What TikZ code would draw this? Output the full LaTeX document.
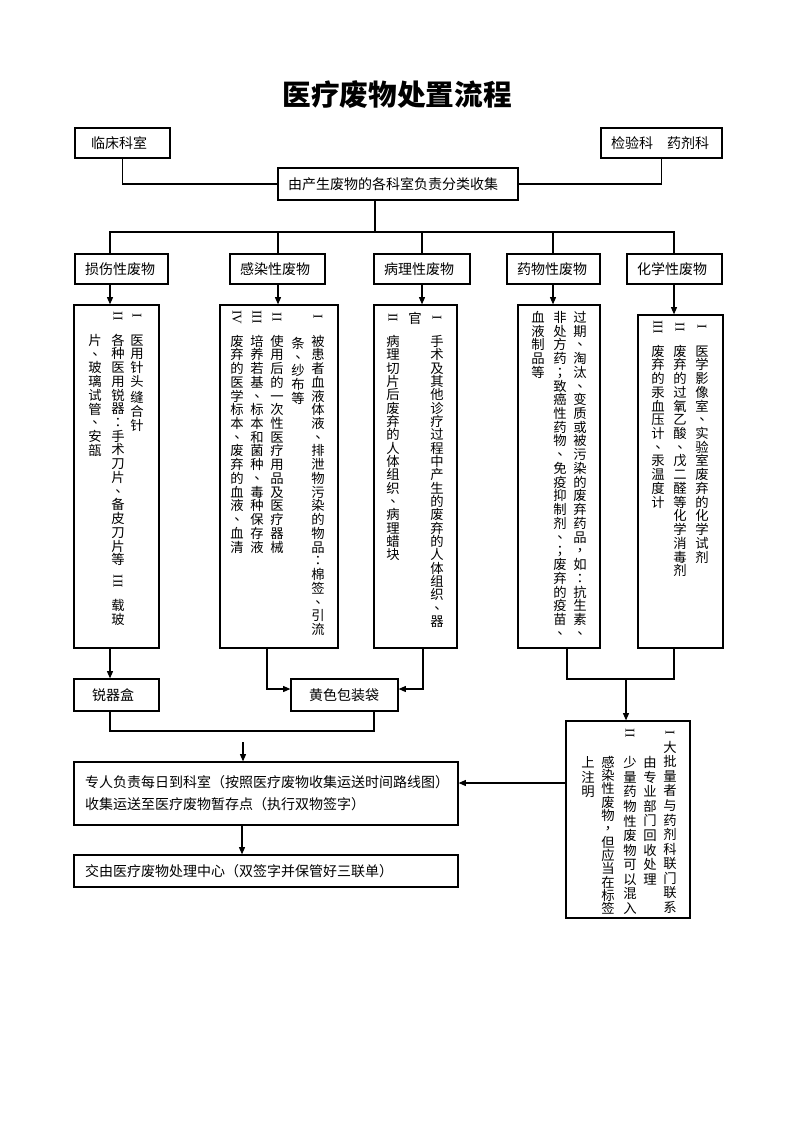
\documentclass[tikz,border=0pt]{standalone}
\usepackage{graphicx}
\usepackage{fontspec}
\setmainfont{Noto Sans CJK SC}
\newfontfamily\latin{Liberation Serif}
\newfontfamily\tcfont{Noto Sans CJK TC}
\usetikzlibrary{arrows.meta}
\newdimen\vpitch \vpitch=10.3pt
\newdimen\cw \cw=11pt
\def\vchar#1{\ifx#1、\tcfont#1\else\ifx#1，\tcfont#1\else\ifx#1：\tcfont#1\else\ifx#1；\tcfont#1\else#1\fi\fi\fi\fi}
\newcommand\vcell[1]{\hbox to\cw{\hss\vrule height .88\vpitch depth .12\vpitch width 0pt\relax\vchar{#1}\hss}}
\newcommand\rnum[1]{\hbox to\cw{\hss\vbox to\vpitch{\vss\hbox{\rotatebox{-90}{\latin\fontsize{10}{10}\selectfont #1}}\vss}\hss}}
\newcommand\vg[1]{\kern#1\relax}
\ExplSyntaxOn
\NewDocumentCommand\vt{m}
  {
    \vbox
      {
        \offinterlineskip
        \tl_map_inline:nn {#1}
          { \tl_if_single_token:nTF {##1} { \vcell{##1} } { ##1 } }
      }
  }
\ExplSyntaxOff
\tikzset{
  ln/.style={line width=0.9pt},
  arr/.style={ln, -{Triangle[length=5.5pt,width=4.5pt]}},
  hb/.style={draw, line width=0.9pt, inner ysep=0pt, align=left, font=\fontsize{10.5}{16.5}\selectfont},
  tall/.style={draw, line width=0.9pt, inner sep=0pt},
  vcol/.style={inner sep=0pt, anchor=north, font=\fontsize{10}{10}\selectfont},
  ttl/.style={inner sep=0pt, font=\fontsize{21.5}{24}\selectfont\bfseries},
}
\newcommand\hbx[7]{%
  \pgfmathsetmacro\hbxtw{(#4-#2-2*#6)*0.75}%
  \pgfmathsetmacro\hbxbh{(#5-#3)*0.75}%
  \pgfmathsetmacro\hbxpad{#6*0.75}%
  \node[hb, text width=\hbxtw pt, inner xsep=\hbxpad pt, minimum height=\hbxbh pt] (#1) at ({(#2+#4)/2},{(#3+#5)/2}) {#7};}
\newcommand\tbx[5]{%
  \pgfmathsetmacro\hbxtw{(#4-#2)*0.75}%
  \pgfmathsetmacro\hbxbh{(#5-#3)*0.75}%
  \node[tall, minimum width=\hbxtw pt, minimum height=\hbxbh pt] (#1) at ({(#2+#4)/2},{(#3+#5)/2}) {};}
\begin{document}
\begin{tikzpicture}[x=0.75pt,y=-0.75pt]
\path[use as bounding box] (0,0) rectangle (793,1122);
% title
\node[ttl] (title) at (397,95) {医疗废物处置流程};
% top boxes
\hbx{lc}{75}{128}{170}{158}{16}{临床科室}
\hbx{jy}{601}{128}{722}{158}{10}{检验科　药剂科}
\hbx{src}{278}{168}{518}{200}{10}{由产生废物的各科室负责分类收集}
% categories
\hbx{k1}{75}{254}{168}{284}{10}{损伤性废物}
\hbx{k2}{230}{254}{325}{284}{10}{感染性废物}
\hbx{k3}{374}{254}{470}{284}{10}{病理性废物}
\hbx{k4}{507}{254}{600}{284}{10}{药物性废物}
\hbx{k5}{627}{254}{722}{284}{10}{化学性废物}
% tall boxes
\tbx{tA}{74}{305}{159}{648}
\tbx{tB}{220}{305}{338}{648}
\tbx{tC}{374}{305}{457}{648}
\tbx{tD}{518}{305}{600}{648}
\tbx{tE}{638}{315}{723}{648}
\tbx{tF}{566}{721}{690}{918}
% columns A
\node[vcol] (a1) at (137,309) {\vt{{\rnum{I}}{\vg{7.5pt}}医用针头{\vg{2pt}}缝合针}};
\node[vcol] (a2) at (118,309) {\vt{{\rnum{II}}{\vg{7.5pt}}各种医用锐器：手术刀片、备皮刀片等{\vg{6pt}}{\rnum{III}}{\vg{7.5pt}}载玻}};
\node[vcol] (a3) at (95,333) {\vt{片、玻璃试管、安瓿}};
% columns B
\node[vcol] (b1) at (318,310) {\vt{{\rnum{I}}{\vg{7.5pt}}被患者血液体液、排泄物污染的物品：棉签、引流}};
\node[vcol] (b2) at (298,336) {\vt{条、纱布等}};
\node[vcol] (b3) at (277,310) {\vt{{\rnum{II}}{\vg{7.5pt}}使用后的一次性医疗用品及医疗器械}};
\node[vcol] (b4) at (257,310) {\vt{{\rnum{III}}{\vg{7.5pt}}培养若基、标本和菌种、毒种保存液}};
\node[vcol] (b5) at (237,310) {\vt{{\rnum{IV}}{\vg{7.5pt}}废弃的医学标本、废弃的血液、血清}};
% columns C
\node[vcol] (p1) at (437,311) {\vpitch=10pt\vt{{\rnum{I}}{\vg{7.5pt}}手术及其他诊疗过程中产生的废弃的人体组织、器}};
\node[vcol] (p2) at (415,311) {\vpitch=10pt\vt{官}};
\node[vcol] (p3) at (393,311) {\vpitch=10pt\vt{{\rnum{II}}{\vg{7.5pt}}病理切片后废弃的人体组织、病理蜡块}};
% columns D
\node[vcol] (d1) at (580,310) {\vt{过期、淘汰、变质或被污染的废弃药品，如：抗生素、}};
\node[vcol] (d2) at (560,310) {\vt{非处方药；致癌性药物、免疫抑制剂、；废弃的疫苗、}};
\node[vcol] (d3) at (538,310) {\vt{血液制品等}};
% columns E
\node[vcol] (e1) at (702,320) {\vt{{\rnum{I}}{\vg{7.5pt}}医学影像室、实验室废弃的化学试剂}};
\node[vcol] (e2) at (680,320) {\vt{{\rnum{II}}{\vg{7.5pt}}废弃的过氧乙酸、戊二醛等化学消毒剂}};
\node[vcol] (e3) at (658,320) {\vt{{\rnum{III}}{\vg{7.5pt}}废弃的汞血压计、汞温度计}};
% columns F
\node[vcol] (f1) at (670,724.75) {\vpitch=10.9pt\vt{{\rnum{I}}大批量者与药剂科联门联系}};
\node[vcol] (f2) at (650,754.75) {\vpitch=10.9pt\vt{由专业部门回收处理}};
\node[vcol] (f3) at (630,725.75) {\vpitch=10.9pt\vt{{\rnum{II}}{\vg{10.9pt}}少量药物性废物可以混入}};
\node[vcol] (f4) at (608,755.3) {\vpitch=10pt\vt{感染性废物，但应当在标签}};
\node[vcol] (f5) at (588,754.75) {\vpitch=10.9pt\vt{上注明}};
% lower boxes
\hbx{sh}{74}{679}{159}{711}{18}{锐器盒}
\hbx{yb}{291}{679}{398}{711}{18}{黄色包装袋}
\hbx{big}{74}{762}{458}{825}{11}{专人负责每日到科室（按照医疗废物收集运送时间路线图）\\收集运送至医疗废物暂存点（执行双物签字）}
\hbx{fin}{74}{855}{458}{887}{11}{交由医疗废物处理中心（双签字并保管好三联单）}
% helper coordinates
\coordinate (j0) at (375,232);
\coordinate (v1) at (110,232);
\coordinate (v2) at (278,232);
\coordinate (v3) at (422,232);
\coordinate (v4) at (553,232);
\coordinate (v5) at (674,232);
\coordinate (ybin) at (0,689);
\coordinate (xb) at (267,0);
\coordinate (xc) at (423,0);
\coordinate (bus2) at (0,731);
\coordinate (xy) at (374,0);
\coordinate (s1) at (243,742);
\coordinate (x2) at (242,0);
\coordinate (mrg) at (0,679);
\coordinate (xd) at (567,0);
\coordinate (xm) at (626,679);
\coordinate (yf) at (0,783);
% connectors top
\draw[ln] (lc.south) |- (src.west);
\draw[ln] (jy.south) |- (src.east);
\draw[ln] (src.south -| j0) -- (j0);
\draw[ln] (v1 |- k1.north) -- (v1) -- (v5) -- (v5 |- k5.north);
\draw[ln] (v2) -- (v2 |- k2.north);
\draw[ln] (v3) -- (v3 |- k3.north);
\draw[ln] (v4) -- (v4 |- k4.north);
% category to tall boxes
\draw[arr] (v1 |- k1.south) -- (v1 |- tA.north);
\draw[arr] (v2 |- k2.south) -- (v2 |- tB.north);
\draw[arr] (v3 |- k3.south) -- (v3 |- tC.north);
\draw[arr] (v4 |- k4.south) -- (v4 |- tD.north);
\draw[arr] (v5 |- k5.south) -- (v5 |- tE.north);
% tall boxes to containers
\draw[arr] (v1 |- tA.south) -- (v1 |- sh.north);
\draw[arr] (xb |- tB.south) |- (yb.west |- ybin);
\draw[arr] (xc |- tC.south) |- (yb.east |- ybin);
\draw[ln] (v1 |- sh.south) |- (xy |- bus2) -- (xy |- yb.south);
\draw[arr] (s1) -- (s1 |- big.north);
\draw[arr] (x2 |- big.south) -- (x2 |- fin.north);
% drug / chemical merge
\draw[ln] (xd |- tD.south) |- (v5 |- mrg) -- (v5 |- tE.south);
\draw[arr] (xm) -- (xm |- tF.north);
\draw[arr] (tF.west |- yf) -- (big.east |- yf);
\end{tikzpicture}
\end{document}
